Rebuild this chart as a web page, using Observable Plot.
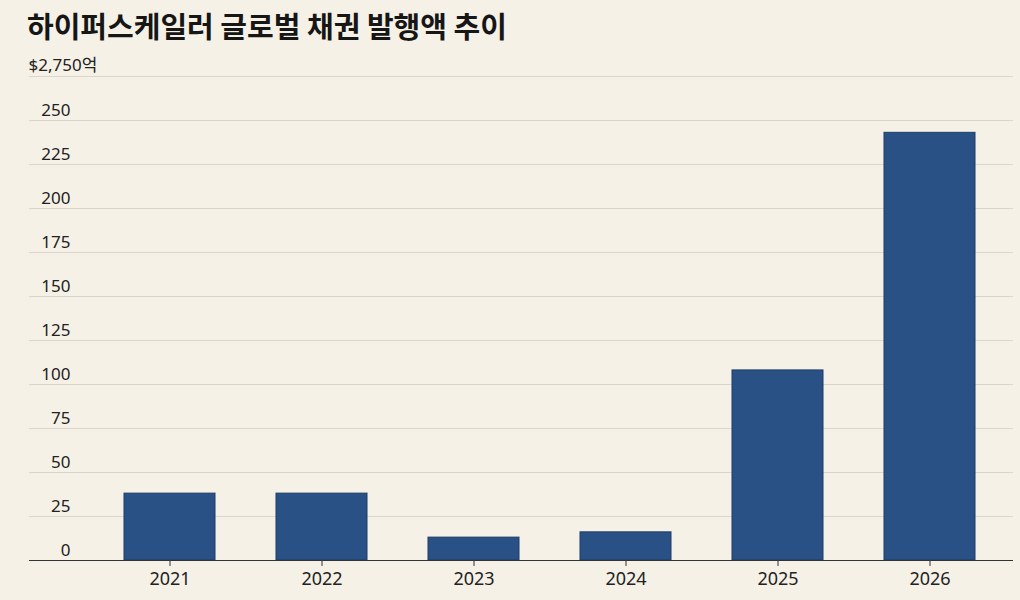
<!DOCTYPE html>
<html>
<head>
<meta charset="utf-8">
<script src="https://cdn.jsdelivr.net/npm/d3@7"></script>
<script src="https://cdn.jsdelivr.net/npm/@observablehq/plot@0.6"></script>
<style>
  html, body { margin: 0; padding: 0; background: #f6f1e7; }
  #title { font-family: "Noto Sans CJK KR", "Noto Sans", sans-serif; font-weight: 700; font-size: 29px; color: #161616; height: 50px; line-height: 50px; padding-left: 27px; letter-spacing: 0px; }
  #chart svg { display: block; }
</style>
</head>
<body>
<div id="title">하이퍼스케일러 글로벌 채권 발행액 추이</div>
<div id="chart"></div>
<script>
const years = ["2021", "2022", "2023", "2024", "2025", "2026"];
const values = [38, 38, 13, 16, 108, 243];
const yTicks = [0, 25, 50, 75, 100, 125, 150, 175, 200, 225, 250];
const topTick = 275;
const topLabel = "$2,750억";

const data = years.map((y, i) => ({year: y, value: values[i]}));
const font = "'Noto Sans', 'Noto Sans CJK KR', sans-serif";

const chart = Plot.plot({
  width: 1020,
  height: 550,
  marginLeft: 29,
  marginRight: 7,
  marginTop: 26,
  marginBottom: 40,
  style: { background: "transparent", fontFamily: font, fontSize: "17px", color: "#222" },
  x: { domain: years, range: [62, 1038], paddingInner: 0.4, paddingOuter: 0.4, label: null },
  y: { domain: [0, topTick], axis: null },
  marks: [
    Plot.ruleY([...yTicks, topTick], { stroke: "#dbd6cc", strokeWidth: 1 }),
    Plot.barY(data, { x: "year", y: "value", fill: "#2a5185", stroke: "#1e3d68", strokeWidth: 1 }),
    Plot.ruleY([0], { stroke: "#333", strokeWidth: 1.2 }),
    Plot.text(yTicks, { y: d => d, text: d => String(d), frameAnchor: "left", textAnchor: "end", dx: 41, dy: -10, fontSize: 17, fill: "#222" }),
    Plot.text([topTick], { y: d => d, text: () => topLabel, frameAnchor: "left", textAnchor: "start", dx: -1, dy: -11, fontSize: 17, fill: "#222" }),
    Plot.axisX({ tickSize: 6, tickPadding: 6, fontSize: 18, stroke: "#333", fill: "#222", label: null })
  ]
});
document.getElementById("chart").appendChild(chart);
</script>
</body>
</html>
